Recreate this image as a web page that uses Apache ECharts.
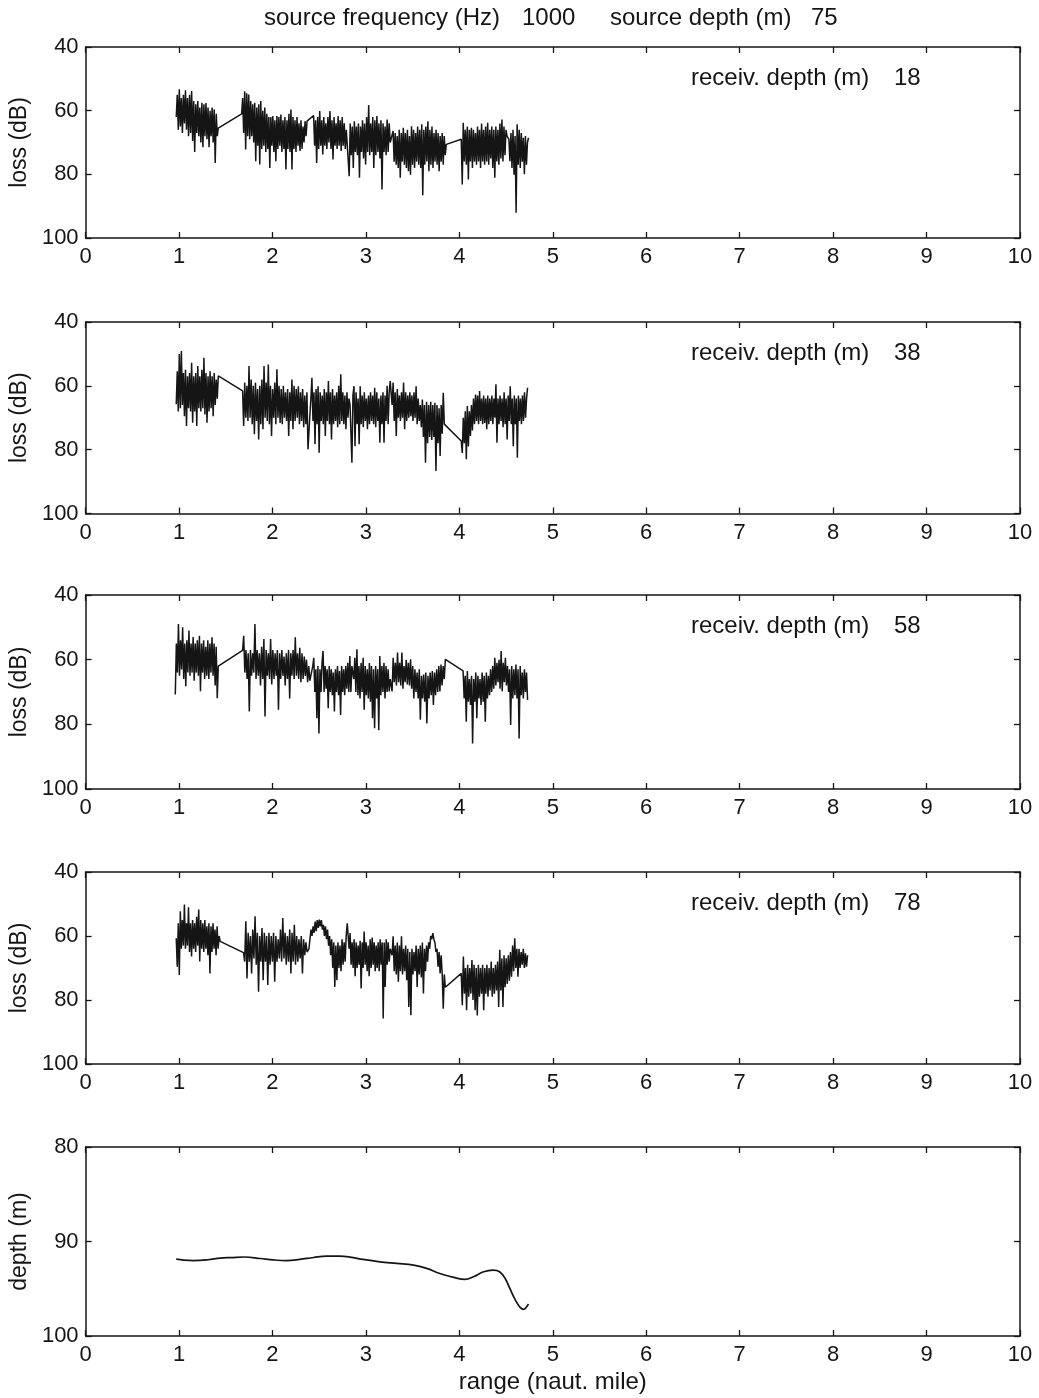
<!DOCTYPE html>
<html>
<head>
<meta charset="utf-8">
<title>Transmission loss vs range</title>
<script src="https://cdn.jsdelivr.net/npm/echarts@6/dist/echarts.min.js"></script>
<style>
  html, body { margin: 0; padding: 0; background: #fff; }
  #chart { width: 1039px; height: 1398px; }
</style>
</head>
<body>
<div id="chart"></div>
<script>
// ---- data -------------------------------------------------------------
// Loss records are stored as runs: [startRange, endRange, [loss values]],
// the values being evenly sampled over the run (range in nautical miles).
const sourceFrequency = 1000;
const sourceDepth = 75;
const receiverDepths = [18, 38, 58, 78];
const rangeTicks = [0, 1, 2, 3, 4, 5, 6, 7, 8, 9, 10];
const lossTicks = [40, 60, 80, 100];
const depthTicks = [80, 90, 100];

const loss18 = [
  [0.97, 1.42, [62, 55, 66, 53.3, 65, 56, 67, 55, 64, 53.6, 66, 56, 68, 55, 67, 53.8, 69.5, 57, 73, 58, 67, 57, 68, 59, 70, 57.5, 71.5, 58, 68, 57.6, 69, 59, 71.5, 60, 68, 59, 70, 59.6, 76.4, 61, 68, 65.5]],
  [1.67, 2.37, [61, 56, 67, 53.9, 72.2, 54.5, 68, 54.9, 69, 57, 68, 58, 70, 57.5, 75.9, 59, 71, 58, 76.9, 57, 72, 60, 71, 59, 73, 61, 72, 62, 78, 62, 71, 61.7, 73, 63, 75.9, 61.7, 72, 62, 71, 61.2, 73, 63, 72, 62, 78.5, 63, 72, 61, 73, 59.6, 78.5, 62, 72, 63, 73, 62, 71, 64, 72.7, 63, 72, 65, 70, 63.3, 68, 63.3]],
  [2.44, 2.79, [61.5, 71, 63, 76.4, 62, 72, 60.1, 71, 63, 73.8, 62, 71, 64, 72, 62, 70, 60.1, 72, 63, 75.3, 62, 71, 64, 72, 61.7, 71, 63, 72.7, 62, 71, 64, 72, 66]],
  [2.81, 3.26, [66, 80.6, 64, 74, 65, 78, 63.3, 73, 65, 74, 64, 81.1, 65, 73, 63, 75, 64, 76.9, 62, 73, 58.2, 74, 64, 73, 62, 78, 63, 74, 61.7, 73, 64, 75, 63, 84.8, 64, 73, 65, 74, 62.8, 73, 64, 70]],
  [3.28, 3.86, [70, 66.4, 76, 67, 77, 68, 78, 66, 81.1, 67, 76, 65.4, 77, 67, 78, 66, 79, 68, 80.1, 64.9, 77, 66, 78, 67, 76, 65, 77, 66, 78, 64.3, 86.6, 66, 77, 65, 76, 63.3, 79, 66, 77, 65, 78, 67, 76, 66, 77, 67, 79, 68, 76, 67, 77, 68, 74, 70.6]],
  [4.02, 4.51, [69, 83.2, 63.8, 76, 66, 77, 65, 81.6, 66, 76, 65.4, 78, 66, 76, 67, 77, 65, 76, 66, 78, 64, 76, 66, 77, 65, 76, 63.8, 77, 66, 75, 65, 78, 66, 81.1, 65, 76, 66, 77, 64, 75, 62.8, 76, 65, 74, 66, 68]],
  [4.53, 4.74, [69, 75.9, 67, 78, 66, 80.1, 68, 92.1, 64.3, 77, 66, 78, 67, 76, 68.5, 80, 68, 77, 70, 68.5]]
];

const loss38 = [
  [0.97, 1.42, [65.8, 55.4, 68, 50, 67, 49.1, 66, 56, 69.5, 55, 72.6, 57, 67, 56, 68, 52.8, 71.6, 57, 68, 56, 72.6, 53.8, 67, 57, 68, 55, 67, 51.2, 69, 56, 71.6, 57, 68, 55.4, 67, 57, 69.5, 56, 66, 58, 64, 56.9]],
  [1.68, 2.38, [61.6, 72.6, 59, 70, 60, 71, 53.8, 70, 58, 72, 60, 75.2, 59, 71, 61, 76.8, 60, 72, 58, 73.6, 53.8, 70, 59, 71, 53.3, 72, 60, 75.7, 61, 70, 59, 72, 54.8, 70, 60, 71.6, 61, 72, 60, 70, 62, 71, 61, 75.7, 62, 71, 58, 73.6, 60, 71, 61, 70, 60.1, 72, 62, 71, 61, 73, 63, 72, 62, 79.9]],
  [2.40, 2.83, [69.3, 64, 57.5, 71, 62, 78.3, 61, 72, 60.1, 81, 62, 71, 63, 72, 61, 75.7, 62, 71, 58.5, 72, 62, 76.8, 61, 72, 63, 71, 62, 73, 60, 72, 56.4, 71, 62, 72, 63, 73.6, 62, 70, 64, 66]],
  [2.85, 3.26, [84.1, 63, 60.1, 78.9, 62, 72, 64, 78.3, 60.1, 72, 63, 73, 62, 71, 64, 73.6, 63, 72, 62, 71, 63, 72, 60.6, 73, 62, 71, 64, 77.8, 63, 72, 62, 77.8, 63, 71, 60, 72, 62, 58.5]],
  [3.28, 3.85, [66, 59, 71, 62, 75.7, 61, 70, 63, 71, 62, 70, 59, 73.6, 62, 71, 63, 70, 62, 69.5, 63, 71, 62, 70, 60.1, 72, 64, 71, 66, 73, 64.3, 76, 66, 84.1, 65, 78, 66, 76, 65, 77, 66, 76, 65.3, 86.7, 66, 78, 67, 82, 66, 75, 62.2, 72, 71.6]],
  [4.02, 4.73, [77.3, 81, 70, 78, 68, 83, 66.3, 79, 68, 75.7, 66, 74, 64, 72, 62.7, 71, 63, 72, 61.6, 71, 64, 72, 63, 71.6, 64, 73.6, 63, 72, 64, 71, 63, 72, 64, 70, 59.5, 77.8, 64, 72, 63, 71, 64, 73, 62, 72, 64, 76.8, 63, 71, 60.1, 72, 64, 78.9, 63, 72, 64, 82.5, 63, 71, 64, 72, 63, 71, 62, 70, 64, 60.6]]
];

const loss58 = [
  [0.96, 1.42, [70.8, 55, 64, 49, 65, 54, 63, 50, 66, 55, 68.2, 54, 64, 51, 65, 55, 64, 53, 66.5, 55, 64, 54, 65, 52.6, 69.8, 55, 64, 54, 66, 56, 65, 54, 66, 55, 64, 53.1, 65, 55, 68, 56, 71.9, 62]],
  [1.68, 2.40, [57.1, 52.6, 64, 57, 66, 58, 76, 57, 65, 58, 64, 49, 66, 57, 65, 58, 68, 56, 66, 53.6, 77.6, 57, 65, 58, 66, 53.6, 67.7, 57, 66, 58, 65, 57, 75.5, 58, 66, 57, 65, 59, 68, 58, 66, 57, 72, 58, 65, 57, 66, 53.1, 65, 58, 66, 56.3, 67, 58, 66, 59, 65, 60, 67, 62, 66.5]],
  [2.42, 2.85, [66, 62, 59.4, 70, 63, 78.1, 62, 82.8, 63, 70, 61, 57.3, 70, 62, 69, 63, 75, 62, 70, 63, 71, 64, 76, 63, 70, 62, 71, 63.5, 77.1, 62, 70, 63, 71, 62, 69, 61, 70, 58.9, 70, 62]],
  [2.87, 3.26, [66, 59.4, 70, 56.8, 71, 62, 72, 61, 70, 59.4, 75.5, 62, 71, 63, 72, 61, 73, 62, 78.1, 63, 81.2, 62, 72, 63, 81.8, 58.9, 71, 62, 70, 61, 72, 62, 70, 63, 69.8, 66]],
  [3.28, 3.85, [69.8, 59.4, 67, 61, 68, 57.8, 67, 61, 68, 57.8, 69, 62, 67, 60, 67.7, 61, 68, 59.9, 69, 62, 72, 63, 70, 64, 72, 63, 78.6, 65, 72, 64.6, 73, 64, 79.7, 65, 72, 64, 71, 63.5, 74, 64, 71, 63, 70, 62, 69.8, 61.5, 68, 62, 66, 59.9]],
  [4.04, 4.73, [63.5, 72, 65, 79.2, 63.5, 73, 66, 74, 65, 85.9, 66, 73, 64, 78.1, 65, 72, 66, 74, 64, 73, 65, 79.2, 64, 72, 65, 71, 63, 70, 62, 69, 59.4, 68, 61, 67, 60, 69, 57.3, 69.8, 61, 67, 59.4, 68, 62, 70, 63, 80.2, 62, 72, 63, 71, 61.5, 72, 63, 84.4, 62, 71, 64, 72, 63, 70, 64, 72.5]]
];

const loss78 = [
  [0.97, 1.44, [60.7, 69.6, 56, 72.2, 52.3, 64, 55, 63, 50.2, 64, 56, 63, 51, 65, 56, 66.4, 55, 64, 56, 65, 54, 63, 51.7, 68, 55, 64, 56, 65, 55, 64, 57, 66, 56, 71.7, 57, 65, 56, 64, 58, 66, 57, 64, 60, 61.7]],
  [1.69, 2.37, [65.2, 68, 55.4, 73.3, 59, 68, 60, 71.7, 58, 67, 53.8, 69, 59, 77.4, 60, 68, 57.5, 73.8, 59, 68, 60, 75.3, 59, 69, 60, 68, 59, 74.3, 60, 68, 61, 67, 58, 68, 54.4, 67, 59, 69, 60, 68, 58, 71.7, 59, 68, 56.5, 69, 60, 68, 61, 67, 60, 71.7, 61, 66, 62, 65]],
  [2.39, 2.80, [64, 61, 58, 60, 57, 59, 55.5, 58.5, 55, 57.5, 54.9, 57, 55, 58, 56.5, 60, 57, 61, 58, 63, 60, 66, 61, 70, 62, 75.9, 63, 73.8, 62, 70, 63, 71, 61, 69, 62, 68, 60, 56]],
  [2.82, 3.26, [64, 59.1, 69, 62, 70, 61, 72.6, 62, 70, 63, 69, 61.5, 76.4, 62, 70, 58.6, 69, 62, 71, 63, 72.6, 61, 70, 60.5, 69, 62, 71, 63, 70, 62, 71, 61, 69, 62, 85.8, 62, 75.9, 61, 69, 62, 68, 64]],
  [3.28, 3.85, [66, 60.1, 71, 63, 72, 62, 74.3, 63, 71, 60.1, 72, 64, 71, 63, 73.8, 64, 82.2, 65, 84.8, 64, 72, 65, 71, 63, 75.9, 64, 72, 63, 73, 62, 78, 64, 71, 63, 68, 62, 64, 60, 61, 59.1, 61, 62, 65, 64, 69.6, 65, 71.7, 66, 72, 82.7, 72, 76]],
  [4.02, 4.73, [71.7, 81.6, 66.4, 78, 70, 83.2, 69, 79, 70, 78, 67.5, 80, 69, 83.2, 70, 84.8, 69, 79, 70, 78, 69, 83.2, 70, 78, 69, 79, 70, 77, 68, 79, 70, 78, 69, 77, 68, 82.2, 64.3, 77, 67, 82.2, 66, 76, 67, 75, 66, 74, 65, 72.7, 63, 71, 60.7, 70, 64, 72.7, 64, 70, 65, 69, 64, 70, 65.4, 69.6, 66]]
];

// bottom depth along the track: [range, depth]
const bottomDepth = [
  [0.97, 91.87], [1.05, 91.97], [1.15, 92.02], [1.31, 91.93], [1.44, 91.76],
  [1.56, 91.70], [1.70, 91.64], [1.87, 91.80], [2.01, 91.95], [2.15, 92.02],
  [2.29, 91.90], [2.44, 91.69], [2.58, 91.55], [2.72, 91.55], [2.83, 91.65],
  [2.97, 91.90], [3.15, 92.15], [3.33, 92.32], [3.51, 92.50], [3.65, 92.85],
  [3.79, 93.38], [3.94, 93.80], [4.06, 94.01], [4.15, 93.73], [4.26, 93.20],
  [4.36, 93.03], [4.43, 93.20], [4.49, 93.91], [4.54, 94.96], [4.60, 96.20],
  [4.65, 96.97], [4.69, 97.18], [4.72, 96.90], [4.74, 96.62]
];

// ---- layout / style ---------------------------------------------------
const FONT = '"Liberation Sans", Arial, Helvetica, sans-serif';
const INK = '#151515';
const panels = [
  { top: 47,  height: 191 },
  { top: 322, height: 191.5 },
  { top: 595, height: 194 },
  { top: 872, height: 192 },
  { top: 1147, height: 189 }
];

function expandRuns(runs) {
  const pts = [];
  runs.forEach(([a, b, vals]) => {
    const n = vals.length;
    vals.forEach((v, i) => pts.push([a + (b - a) * i / (n - 1), v]));
  });
  return pts;
}

const lossRecords = [loss18, loss38, loss58, loss78];

const grid = panels.map(p => ({ left: 85, right: 19, top: p.top, height: p.height }));

const frameLine = { show: true, onZero: false, lineStyle: { color: INK, width: 1.5 } };
const frameTick = { show: true, inside: true, length: 6, lineStyle: { color: INK, width: 1.3 } };
const labelStyle = { fontFamily: FONT, fontSize: 22, color: INK };

const xAxis = [];
const yAxis = [];
panels.forEach((p, i) => {
  const last = i === panels.length - 1;
  xAxis.push({
    gridIndex: i, type: 'value', position: 'bottom',
    min: rangeTicks[0], max: rangeTicks[rangeTicks.length - 1], interval: 1,
    axisLine: frameLine, axisTick: frameTick, splitLine: { show: false },
    axisLabel: Object.assign({ margin: 8 }, labelStyle),
    name: last ? 'range (naut. mile)' : '',
    nameLocation: 'middle', nameGap: 34,
    nameTextStyle: { fontFamily: FONT, fontSize: 24, color: INK }
  });
  xAxis.push({
    gridIndex: i, type: 'value', position: 'top',
    min: rangeTicks[0], max: rangeTicks[rangeTicks.length - 1], interval: 1,
    axisLine: frameLine, axisTick: frameTick, splitLine: { show: false },
    axisLabel: { show: false }
  });
  const ticks = last ? depthTicks : lossTicks;
  const yCommon = {
    gridIndex: i, type: 'value', inverse: true,
    min: ticks[0], max: ticks[ticks.length - 1], interval: ticks[1] - ticks[0],
    axisLine: frameLine, axisTick: frameTick, splitLine: { show: false }
  };
  yAxis.push(Object.assign({}, yCommon, {
    position: 'left',
    axisLabel: Object.assign({ margin: 7 }, labelStyle),
    name: last ? 'depth (m)' : 'loss (dB)',
    nameLocation: 'middle', nameGap: 49, nameRotate: 90,
    nameTextStyle: { fontFamily: FONT, fontSize: 23, color: INK }
  }));
  yAxis.push(Object.assign({}, yCommon, { position: 'right', axisLabel: { show: false } }));
});

const series = lossRecords.map((runs, i) => ({
  type: 'line', xAxisIndex: 2 * i, yAxisIndex: 2 * i,
  data: expandRuns(runs), showSymbol: false, symbol: 'none',
  lineStyle: { color: INK, width: 1.5, join: 'bevel' }, silent: true
}));
series.push({
  type: 'line', xAxisIndex: 8, yAxisIndex: 8,
  data: bottomDepth, smooth: 0.4, showSymbol: false, symbol: 'none',
  lineStyle: { color: INK, width: 1.7 }, silent: true
});

function txt(text, x, y, size) {
  return { type: 'text', x: x, y: y, silent: true,
    style: { text: String(text), fill: INK, font: (size || 24) + 'px ' + FONT,
             align: 'left', verticalAlign: 'middle' } };
}

const graphic = [
  txt('source frequency (Hz)', 264, 18),
  txt(sourceFrequency, 522, 18),
  txt('source depth (m)', 610, 18),
  txt(sourceDepth, 811, 18)
];
receiverDepths.forEach((d, i) => {
  const y = panels[i].top + 31;
  graphic.push(txt('receiv. depth (m)', 691, y));
  graphic.push(txt(d, 894, y));
});

const chart = echarts.init(document.getElementById('chart'), null, { renderer: 'canvas' });
chart.setOption({
  backgroundColor: '#ffffff',
  animation: false,
  grid, xAxis, yAxis, series, graphic
});
</script>
</body>
</html>
